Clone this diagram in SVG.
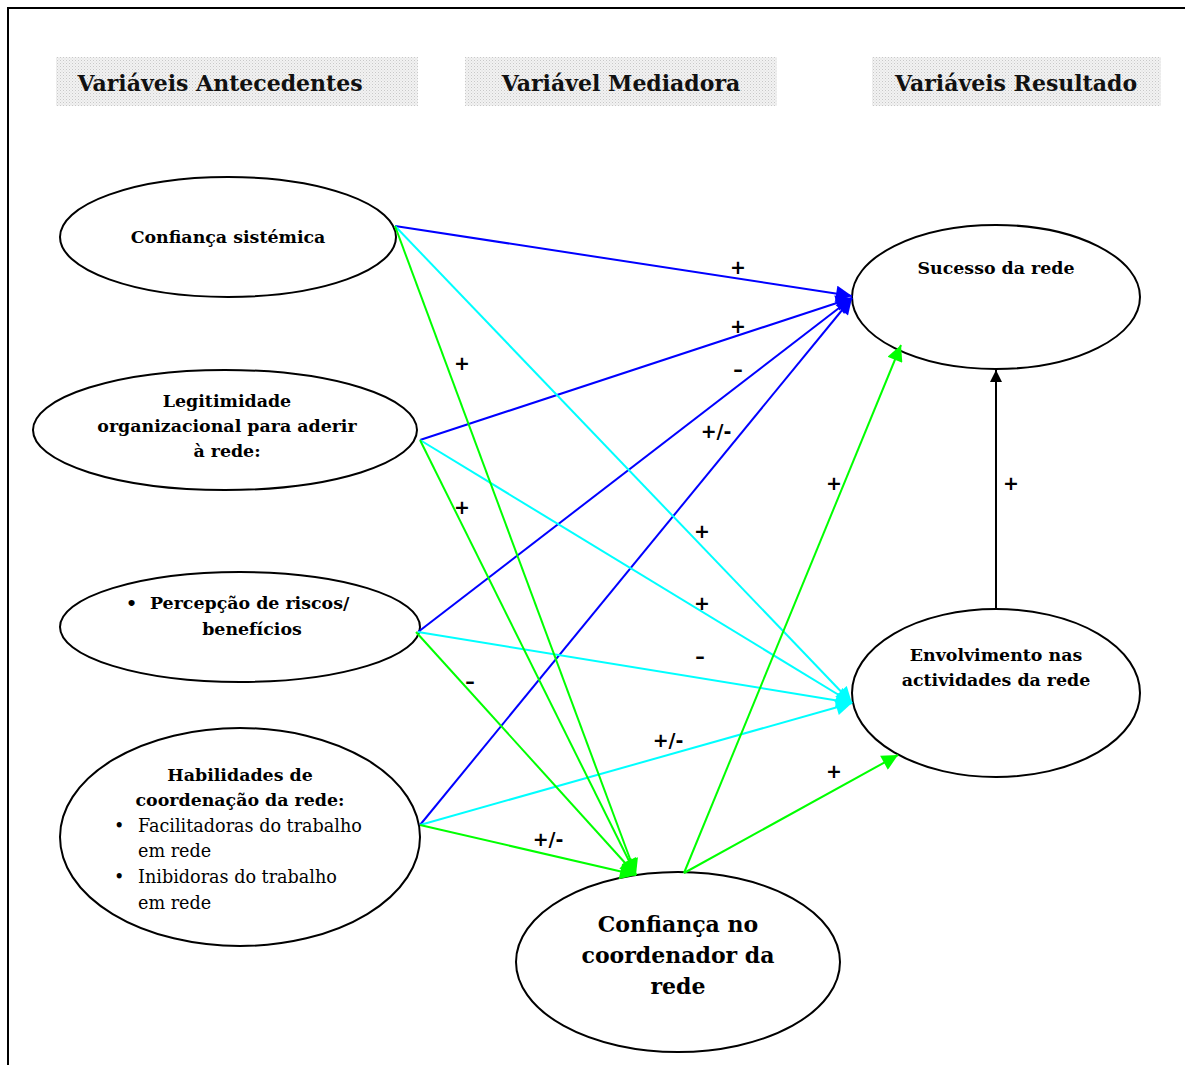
<svg xmlns="http://www.w3.org/2000/svg" width="1185" height="1065" viewBox="0 0 1185 1065">
<style>
.hdr{font-family:"DejaVu Serif","Liberation Serif",serif;font-weight:bold;font-size:22px;fill:#111;text-anchor:middle}
.nb{font-family:"DejaVu Serif","Liberation Serif",serif;font-weight:bold;font-size:17.4px;fill:#000;text-anchor:middle}
.nbl{font-family:"DejaVu Serif","Liberation Serif",serif;font-weight:bold;font-size:17.4px;fill:#000;text-anchor:start}
.nr{font-family:"DejaVu Serif","Liberation Serif",serif;font-size:17.6px;fill:#000;text-anchor:start}
.big{font-family:"DejaVu Serif","Liberation Serif",serif;font-weight:bold;font-size:22px;fill:#000;text-anchor:middle}
.lb{font-family:"DejaVu Sans","Liberation Sans",sans-serif;font-weight:bold;font-size:19px;fill:#000;text-anchor:middle}
.el{fill:#fff;stroke:#000;stroke-width:2}
.b{stroke:#0000ff;stroke-width:2;fill:none}
.c{stroke:#00ffff;stroke-width:2;fill:none}
.g{stroke:#00ff00;stroke-width:2;fill:none}
.k{stroke:#000;stroke-width:2;fill:none}
</style>
<defs>
<pattern id="dots" width="3" height="3" patternUnits="userSpaceOnUse">
<rect width="3" height="3" fill="#f2f2f2"/>
<rect width="1" height="1" fill="#c8c8c8"/>
<rect x="1.5" y="1.5" width="1" height="1" fill="#d8d8d8"/>
</pattern>
<marker id="ab" viewBox="0 0 10 10" refX="10" refY="5" markerWidth="9" markerHeight="8" orient="auto"><path d="M0,0 L10,5 L0,10 z" fill="#0000ff"/></marker>
<marker id="ac" viewBox="0 0 10 10" refX="10" refY="5" markerWidth="9" markerHeight="8" orient="auto"><path d="M0,0 L10,5 L0,10 z" fill="#00ffff"/></marker>
<marker id="ag" viewBox="0 0 10 10" refX="10" refY="5" markerWidth="9" markerHeight="8" orient="auto"><path d="M0,0 L10,5 L0,10 z" fill="#00ff00"/></marker>
<marker id="ak" viewBox="0 0 10 10" refX="10" refY="5" markerWidth="6" markerHeight="6" orient="auto"><path d="M0,0 L10,5 L0,10 z" fill="#000"/></marker>
</defs>
<rect width="1185" height="1065" fill="#fff"/>
<rect x="8" y="8" width="1190" height="1070" fill="none" stroke="#000" stroke-width="2"/>

<g id="headers">
<rect x="56" y="57" width="362" height="49" fill="url(#dots)"/>
<text class="hdr" x="220" y="91">Variáveis Antecedentes</text>
<rect x="465" y="57" width="312" height="49" fill="url(#dots)"/>
<text class="hdr" x="621" y="91">Variável Mediadora</text>
<rect x="872" y="57" width="289" height="49" fill="url(#dots)"/>
<text class="hdr" x="1016" y="91">Variáveis Resultado</text>
</g>

<g id="n1"><ellipse class="el" cx="228" cy="237" rx="168" ry="60"/>
<text class="nb" x="228" y="243">Confiança sistémica</text></g>
<g id="n2"><ellipse class="el" cx="225" cy="430" rx="192" ry="60"/>
<text class="nb" x="227" y="407">Legitimidade</text>
<text class="nb" x="227" y="432">organizacional para aderir</text>
<text class="nb" x="227" y="457">à rede:</text></g>
<g id="n3"><ellipse class="el" cx="240" cy="627" rx="180" ry="55"/>
<text class="nbl" x="126" y="609">•</text>
<text class="nbl" x="150" y="609">Percepção de riscos/</text>
<text class="nb" x="252" y="635">benefícios</text></g>
<g id="n4"><ellipse class="el" cx="240" cy="837" rx="180" ry="109"/>
<text class="nb" x="240" y="781">Habilidades de</text>
<text class="nb" x="240" y="806">coordenação da rede:</text>
<text class="nr" x="114" y="832">•</text>
<text class="nr" x="138" y="832">Facilitadoras do trabalho</text>
<text class="nr" x="138" y="857">em rede</text>
<text class="nr" x="114" y="883">•</text>
<text class="nr" x="138" y="883">Inibidoras do trabalho</text>
<text class="nr" x="138" y="909">em rede</text></g>
<g id="n5"><ellipse class="el" cx="678" cy="962" rx="162" ry="90"/>
<text class="big" x="678" y="932">Confiança no</text>
<text class="big" x="678" y="963">coordenador da</text>
<text class="big" x="678" y="994">rede</text></g>
<g id="n6"><ellipse class="el" cx="996" cy="297" rx="144" ry="72"/>
<text class="nb" x="996" y="274">Sucesso da rede</text></g>
<g id="n7"><ellipse class="el" cx="996" cy="693" rx="144" ry="84"/>
<text class="nb" x="996" y="661">Envolvimento nas</text>
<text class="nb" x="996" y="686">actividades da rede</text></g>

<g id="connectors">
<line class="b" x1="395" y1="226" x2="852" y2="296" marker-end="url(#ab)"/>
<line class="b" x1="420" y1="440" x2="852" y2="298" marker-end="url(#ab)"/>
<line class="b" x1="418" y1="632" x2="852" y2="298" marker-end="url(#ab)"/>
<line class="b" x1="420" y1="825" x2="852" y2="298" marker-end="url(#ab)"/>
<line class="c" x1="395" y1="226" x2="852" y2="703" marker-end="url(#ac)"/>
<line class="c" x1="420" y1="440" x2="852" y2="703" marker-end="url(#ac)"/>
<line class="c" x1="418" y1="632" x2="852" y2="703" marker-end="url(#ac)"/>
<line class="c" x1="420" y1="825" x2="852" y2="703" marker-end="url(#ac)"/>
<line class="g" x1="395" y1="226" x2="636" y2="875" marker-end="url(#ag)"/>
<line class="g" x1="420" y1="440" x2="636" y2="875" marker-end="url(#ag)"/>
<line class="g" x1="416" y1="632" x2="636" y2="875" marker-end="url(#ag)"/>
<line class="g" x1="420" y1="825" x2="636" y2="875" marker-end="url(#ag)"/>
<line class="g" x1="684" y1="873" x2="901" y2="345" marker-end="url(#ag)"/>
<line class="g" x1="684" y1="873" x2="898" y2="755" marker-end="url(#ag)"/>
<line class="k" x1="996" y1="609" x2="996" y2="370" marker-end="url(#ak)"/>
</g>

<g id="labels">
<text class="lb" x="738" y="274">+</text>
<text class="lb" x="738" y="333">+</text>
<text class="lb" x="738" y="376">–</text>
<text class="lb" x="716" y="438">+/-</text>
<text class="lb" x="462" y="370">+</text>
<text class="lb" x="462" y="514">+</text>
<text class="lb" x="702" y="538">+</text>
<text class="lb" x="702" y="610">+</text>
<text class="lb" x="700" y="663">–</text>
<text class="lb" x="470" y="688">–</text>
<text class="lb" x="668" y="747">+/-</text>
<text class="lb" x="548" y="846">+/-</text>
<text class="lb" x="834" y="490">+</text>
<text class="lb" x="1011" y="490">+</text>
<text class="lb" x="834" y="778">+</text>
</g>
</svg>
